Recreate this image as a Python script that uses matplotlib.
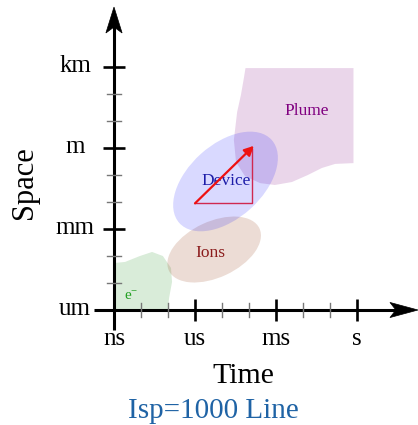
"""Sketch of time/space scales for a thruster: electrons, ions, the device
and its plume on log-decade axes, with the Isp=1000 line drawn as an arrow."""

import matplotlib.pyplot as plt
from matplotlib.patches import Ellipse, Polygon

plt.rcParams["font.family"] = ["Liberation Serif", "DejaVu Serif"]

# Axes are in decades: time as log10(t / 1 ns), space as log10(L / 1 um)
time_ticks = [0, 3, 6, 9]
time_labels = ["ns", "us", "ms", "s"]
space_ticks = [0, 3, 6, 9]
space_labels = ["um", "mm", "m", "km"]
minor_ticks = [1, 2, 4, 5, 7, 8]

# Region outlines / ellipses (centre, width, height, angle)
electron_x = [0.0, 0.0, 0.41, 0.96, 1.41, 1.81, 2.11, 2.15, 2.04, 2.0]
electron_y = [0.0, 1.74, 1.78, 2.0, 2.15, 2.0, 1.56, 1.04, 0.44, 0.0]

plume_x = [4.87, 8.87, 8.87, 8.19, 7.70, 7.18, 6.59, 5.96, 5.41, 4.85,
           4.52, 4.44, 4.56, 4.70, 4.81]
plume_y = [8.96, 8.96, 5.44, 5.41, 5.26, 5.0, 4.74, 4.63, 4.70, 4.96,
           5.48, 6.30, 7.33, 7.96, 8.59]

device = (4.13, 4.76, 4.6, 2.74, 42)
ions = (3.71, 2.24, 3.70, 2.07, 25)

# Isp = 1000 s  ->  ~10 um/ns, i.e. space = time + 1 decade
isp_start = (3.0, 3.95)
isp_end = (5.18, 6.08)
isp_corner = (5.1, 3.95)

fig = plt.figure(figsize=(4.18, 4.25), dpi=100)
ax = fig.add_axes([0, 0, 1, 1])
ax.set_xlim(-114 / 27, 304 / 27)
ax.set_ylim(-115 / 27, 310 / 27)
ax.axis("off")

ax.add_patch(Polygon(list(zip(plume_x, plume_y)), closed=True,
                     facecolor="#800080", alpha=0.16, edgecolor="none"))
ax.add_patch(Polygon(list(zip(electron_x, electron_y)), closed=True,
                     facecolor="#008000", alpha=0.15, edgecolor="none"))
cx, cy, w, h, ang = ions
ax.add_patch(Ellipse((cx, cy), w, h, angle=ang, facecolor="#a0522d",
                     alpha=0.2, edgecolor="none"))
cx, cy, w, h, ang = device
ax.add_patch(Ellipse((cx, cy), w, h, angle=ang, facecolor="#0000ff",
                     alpha=0.15, edgecolor="none"))

ax.text(7.15, 7.22, "Plume", color="#800080", fontsize=12.5,
        ha="center", va="baseline")
ax.text(4.15, 4.62, "Device", color="#1c1ca8", fontsize=12.5,
        ha="center", va="baseline")
ax.text(3.56, 1.95, "Ions", color="#8b1c1c", fontsize=12.5,
        ha="center", va="baseline")
ax.text(0.36, 0.36, r"$\mathregular{e^{-}}$", color="#22a022", fontsize=11,
        ha="left", va="baseline")

# Isp triangle and arrow
ax.plot([isp_start[0], isp_corner[0], isp_corner[0]],
        [isp_start[1], isp_corner[1], isp_end[1] - 0.1],
        color="#d02850", lw=1.0, zorder=3)
ax.annotate("", xy=isp_end, xytext=isp_start,
            arrowprops=dict(arrowstyle="-|>", color="#ee1111", lw=1.6,
                            mutation_scale=14, shrinkA=0, shrinkB=0),
            zorder=4)

# Axis lines with stealth-style heads
ax.plot([-0.74, 10.5], [0, 0], color="black", lw=2.2, solid_capstyle="butt")
ax.plot([0, 0], [-0.74, 10.5], color="black", lw=2.2, solid_capstyle="butt")
ax.add_patch(Polygon([(11.26, 0), (10.22, 0.28), (10.44, 0), (10.22, -0.28)],
                     closed=True, facecolor="black", edgecolor="black", lw=0.5))
ax.add_patch(Polygon([(0, 11.22), (0.3, 10.26), (0, 10.48), (-0.3, 10.26)],
                     closed=True, facecolor="black", edgecolor="black", lw=0.5))

major_half = 11 / 27
minor_half = 7 / 27
for t in time_ticks[1:]:
    ax.plot([t, t], [-major_half, major_half], color="black", lw=1.9,
            solid_capstyle="butt")
for s in space_ticks[1:]:
    ax.plot([-major_half, major_half], [s, s], color="black", lw=1.9,
            solid_capstyle="butt")
for m in minor_ticks:
    ax.plot([m, m], [-minor_half, minor_half], color="#777777", lw=1.0)
    ax.plot([-minor_half, minor_half], [m, m], color="#777777", lw=1.0)

for t, lab in zip(time_ticks, time_labels):
    ax.text(t, -1.3, lab, fontsize=18, ha="center", va="baseline")
for s, lab in zip(space_ticks, space_labels):
    ax.text(-1.44, s - 0.17, lab, fontsize=18, ha="center", va="baseline")

ax.text(4.80, -2.70, "Time", fontsize=21.5, ha="center", va="baseline")
ax.text(-3.33, 4.70, "Space", fontsize=22, rotation=90,
        ha="center", va="center")
ax.text(3.67, -4.0, "Isp=1000 Line", fontsize=21, color="#1f63a5",
        ha="center", va="baseline")

fig.savefig("out.png", dpi=100)
